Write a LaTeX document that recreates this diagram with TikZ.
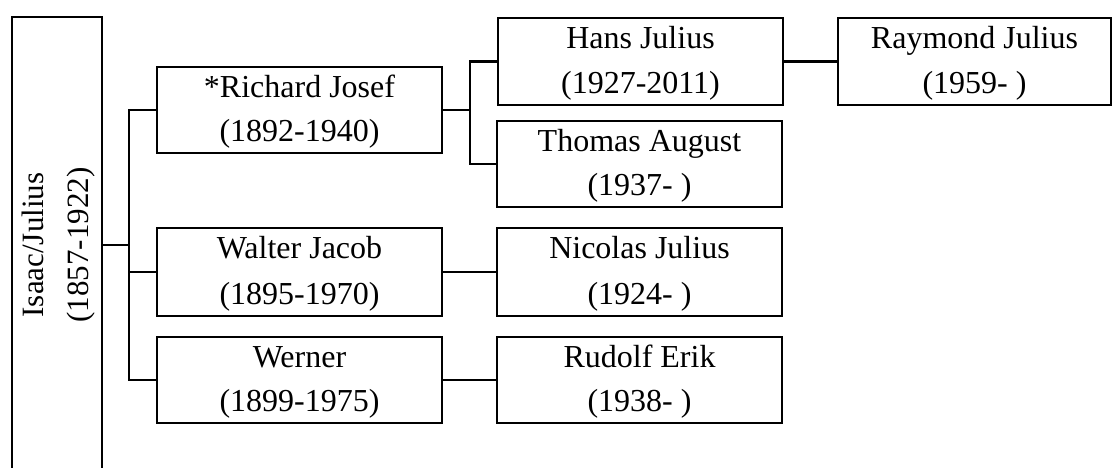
\documentclass[tikz,border=0pt]{standalone}
\usepackage{fontspec}
\setmainfont{Liberation Serif}
% two centred lines in a box of width #1 and height #2
\newcommand\twoline[4]{%
  \vbox{\fontsize{32}{40}\selectfont
    \hbox to #1{\hss\smash{#3}\hss\vrule height 30pt depth 0pt width 0pt}%
    \nointerlineskip
    \hbox to #1{\hss\smash{#4}\hss\vrule height \dimexpr#2-42pt\relax depth 12pt width 0pt}}}
\begin{document}
\begin{tikzpicture}[x=1pt,y=-1pt,
  person/.style={draw, line width=2.6pt, inner sep=0pt, outer sep=0pt},
  link/.style={line width=2.6pt}]
\useasboundingbox (0,0) rectangle (1113,467);
% Isaac (box runs off the bottom edge)
\node[person, minimum width=86pt, minimum height=456pt] (isaac) at (57,245)
  {\rotatebox{90}{\fontsize{31}{45}\selectfont\begin{tabular}{@{}c@{}}Isaac/Julius\\(1857-1922)\end{tabular}}};
% generation 1
\node[person] (richard) at (299.5,110) {\twoline{285pt}{86pt}{*Richard Josef}{(1892-1940)}};
\node[person] (walter)  at (299.5,272) {\twoline{285pt}{88pt}{Walter Jacob}{(1895-1970)}};
\node[person] (werner)  at (299.5,380) {\twoline{285pt}{86pt}{Werner}{(1899-1975)}};
% generation 2
\node[person] (hans)    at (640.5,61.5) {\twoline{285pt}{87pt}{Hans Julius}{(1927-2011)}};
\node[person] (thomas)  at (639.5,164)  {\twoline{285pt}{86pt}{Thomas August}{(1937- )}};
\node[person] (nicolas) at (639.5,272)  {\twoline{285pt}{88pt}{Nicolas Julius}{(1924- )}};
\node[person] (rudolf)  at (639.5,380)  {\twoline{285pt}{86pt}{Rudolf Erik}{(1938- )}};
% generation 3
\node[person] (raymond) at (974.5,61.5) {\twoline{273pt}{87pt}{Raymond Julius}{(1959- )}};
% connectors
\coordinate (trunk) at (129,245);
\coordinate (rj) at (470,110);
\draw[link] (isaac.east) -- (trunk);
\draw[link] (richard.west) -| (trunk) |- (werner.west);
\draw[link] (walter.west) -- (walter.west -| trunk);
\draw[link] (richard.east) -- (rj);
\draw[link] (hans.west) -| (rj) |- (thomas.west);
\draw[link] (hans.east) -- (raymond.west);
\draw[link] (walter.east) -- (nicolas.west);
\draw[link] (werner.east) -- (rudolf.west);
\end{tikzpicture}
\end{document}
